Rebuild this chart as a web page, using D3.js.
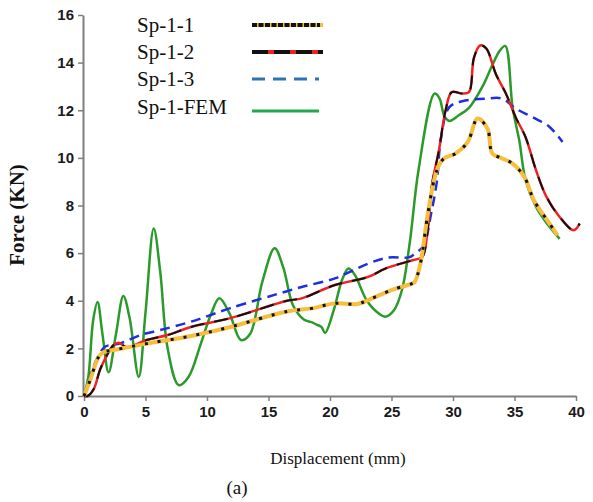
<!DOCTYPE html>
<html><head><meta charset="utf-8">
<script src="https://cdn.jsdelivr.net/npm/d3@7"></script>
<style>body{margin:0;background:#fff}</style>
</head><body>
<svg id="c" width="593" height="502"></svg>
<script>
const xTicks=[0,5,10,15,20,25,30,35,40];
const yTicks=[0,2,4,6,8,10,12,14,16];
const seriesNames=["Sp-1-1","Sp-1-2","Sp-1-3","Sp-1-FEM"];

const sp11X=[0,0.5,1.2,1.6,2.4,5.1,8.7,11.9,16.5,18.5,20.4,22.2,23.1,25.0,26.7,26.9,27.35,28.0,28.7,29.25,30.2,31.2,32.0,32.8,33.2,33.9,34.85,35.8,36.6,37.85,38.5];
const sp11Y=[0,0.67,1.65,1.85,1.93,2.2,2.52,2.9,3.55,3.68,3.89,3.86,4.03,4.45,4.73,4.8,5.56,7.8,9.5,9.97,10.18,10.67,11.65,11.23,10.18,10.0,9.76,9.2,8.2,7.24,6.75];

const sp12X=[0,0.3,0.8,1.3,1.85,2.4,2.8,3.5,5.1,6.8,8.7,11.9,16.5,17.7,20.4,23.1,24.5,26.7,27.5,27.9,28.3,28.85,29.4,29.9,30.75,31.3,31.7,32.2,32.7,33.5,34.3,35.1,35.9,36.75,37.6,38.67,39.8,40.3];
const sp12Y=[0,0,0.3,1.1,1.7,2.14,2.24,2.05,2.35,2.56,2.9,3.27,4.0,4.1,4.66,5.0,5.35,5.7,5.84,6.8,8.9,10.3,12.0,12.76,12.7,12.76,14.2,14.72,14.6,13.5,12.7,11.7,10.87,9.48,8.36,7.52,6.96,7.24];

const sp13X=[0,0.4,0.77,1.3,1.7,2.95,4.6,6.2,8.7,11.9,16.5,17.7,20.4,23.1,24.8,26.4,26.9,27.6,28.2,28.7,29.0,29.7,30.75,32.7,34.0,35.1,36.5,37.85,38.9];
const sp13Y=[0,0.6,1.23,1.8,2.07,2.21,2.56,2.77,3.12,3.69,4.4,4.58,4.94,5.56,5.82,5.82,5.98,6.3,7.6,9.06,10.74,12.13,12.38,12.49,12.49,12.07,11.7,11.3,10.67];

const femX=[0,0.35,0.75,1.1,1.5,2.0,2.6,3.2,3.7,4.45,5.0,5.67,6.2,6.8,7.7,8.5,9.5,10.3,11.0,11.8,12.76,13.5,14.5,15.5,16.2,17.0,17.9,18.5,18.9,19.3,19.6,20.3,21.0,21.5,22.0,23.0,24.0,24.5,25.2,25.85,26.5,27.2,28.5,28.9,29.3,29.7,30.5,31.3,32.4,33.2,33.8,34.25,34.85,35.4,35.9,36.75,37.7,38.67];
const femY=[0,0.8,3.2,3.95,2.6,1.0,2.6,4.2,3.3,0.8,3.5,7.03,5.2,2.0,0.46,0.8,2.2,3.4,4.1,3.5,2.35,2.6,4.8,6.2,5.4,3.8,3.2,3.1,3.0,2.9,2.65,3.6,4.9,5.35,5.1,4.0,3.45,3.33,3.6,4.45,6.5,9.5,12.7,12.5,11.75,11.55,11.8,12.1,13.0,13.9,14.5,14.7,12.1,10.7,9.06,7.94,7.2,6.6];

const svg=d3.select("#c");
const x=d3.scaleLinear().domain([0,40]).range([84,576]);
const y=d3.scaleLinear().domain([0,16]).range([396,15]);
const zip=(a,b)=>a.map((v,i)=>[v,b[i]]);
const line=d3.line().x(d=>x(d[0])).y(d=>y(d[1])).curve(d3.curveCatmullRom.alpha(0.5));

const axisCol="#7f7f7f";
const gx=svg.append("g").attr("transform","translate(0,396)").call(d3.axisBottom(x).tickValues(xTicks).tickSize(5).tickPadding(5).tickSizeOuter(0));
const gy=svg.append("g").attr("transform","translate(83,0)").call(d3.axisLeft(y).tickValues(yTicks).tickSize(5).tickPadding(4).tickSizeOuter(0));
[gx,gy].forEach(g=>{
  g.select(".domain").attr("stroke",axisCol).attr("stroke-width",2);
  g.selectAll(".tick line").attr("stroke",axisCol).attr("stroke-width",1.5);
  g.selectAll(".tick text").attr("fill","#1a1a1a").attr("font-family","Liberation Sans, Arial, sans-serif").attr("font-weight","bold").attr("font-size",15);
});

const plot=svg.append("g");
plot.append("path").datum(zip(femX,femY)).attr("d",line).attr("fill","none").attr("stroke","#2a9a2a").attr("stroke-width",2.5);
plot.append("path").datum(zip(sp13X,sp13Y)).attr("d",line).attr("fill","none").attr("stroke","#1f2fe0").attr("stroke-width",2.5).attr("stroke-dasharray","10,6");
plot.append("path").datum(zip(sp12X,sp12Y)).attr("d",line).attr("fill","none").attr("stroke","#ee2222").attr("stroke-width",2.5);
plot.append("path").datum(zip(sp12X,sp12Y)).attr("d",line).attr("fill","none").attr("stroke","#111").attr("stroke-width",2).attr("stroke-dasharray","14,10");
plot.append("path").datum(zip(sp11X,sp11Y)).attr("d",line).attr("fill","none").attr("stroke","#f7bd3c").attr("stroke-width",4);
plot.append("path").datum(zip(sp11X,sp11Y)).attr("d",line).attr("fill","none").attr("stroke","#111").attr("stroke-width",3).attr("stroke-dasharray","3,10");

const leg=svg.append("g");
const legY=[25,52,79,107];
seriesNames.forEach((n,i)=>{
  leg.append("text").attr("x",137).attr("y",legY[i]+7).text(n)
    .attr("font-family","Liberation Serif, Times New Roman, serif").attr("font-size",21).attr("fill","#111");
});
const lx1=252,lx2=323;
leg.append("line").attr("x1",lx1).attr("x2",lx2).attr("y1",legY[0]).attr("y2",legY[0]).attr("stroke","#f7bd3c").attr("stroke-width",4);
leg.append("line").attr("x1",lx1).attr("x2",lx2-3).attr("y1",legY[0]).attr("y2",legY[0]).attr("stroke","#111").attr("stroke-width",4).attr("stroke-dasharray","5,1.5");
leg.append("line").attr("x1",lx1).attr("x2",lx2).attr("y1",legY[1]).attr("y2",legY[1]).attr("stroke","#ee2222").attr("stroke-width",4);
leg.append("line").attr("x1",lx1).attr("x2",lx2).attr("y1",legY[1]).attr("y2",legY[1]).attr("stroke","#111").attr("stroke-width",4).attr("stroke-dasharray","16,6");
leg.append("line").attr("x1",lx1).attr("x2",lx2-4).attr("y1",legY[2]).attr("y2",legY[2]).attr("stroke","#2e74b5").attr("stroke-width",3).attr("stroke-dasharray","13,8");
leg.append("line").attr("x1",lx1).attr("x2",lx2-4).attr("y1",legY[3]+4).attr("y2",legY[3]+4).attr("stroke","#1faa50").attr("stroke-width",3);

svg.append("text").attr("transform","translate(24,215) rotate(-90)").attr("text-anchor","middle")
  .attr("font-family","Liberation Serif, Times New Roman, serif").attr("font-weight","bold").attr("font-size",21).attr("fill","#111").text("Force (KN)");
svg.append("text").attr("x",338).attr("y",464).attr("text-anchor","middle")
  .attr("font-family","Liberation Serif, Times New Roman, serif").attr("font-size",17).attr("fill","#111").text("Displacement (mm)");
svg.append("text").attr("x",237).attr("y",494).attr("text-anchor","middle")
  .attr("font-family","Liberation Serif, Times New Roman, serif").attr("font-size",19).attr("fill","#111").text("(a)");
</script>
</body></html>
